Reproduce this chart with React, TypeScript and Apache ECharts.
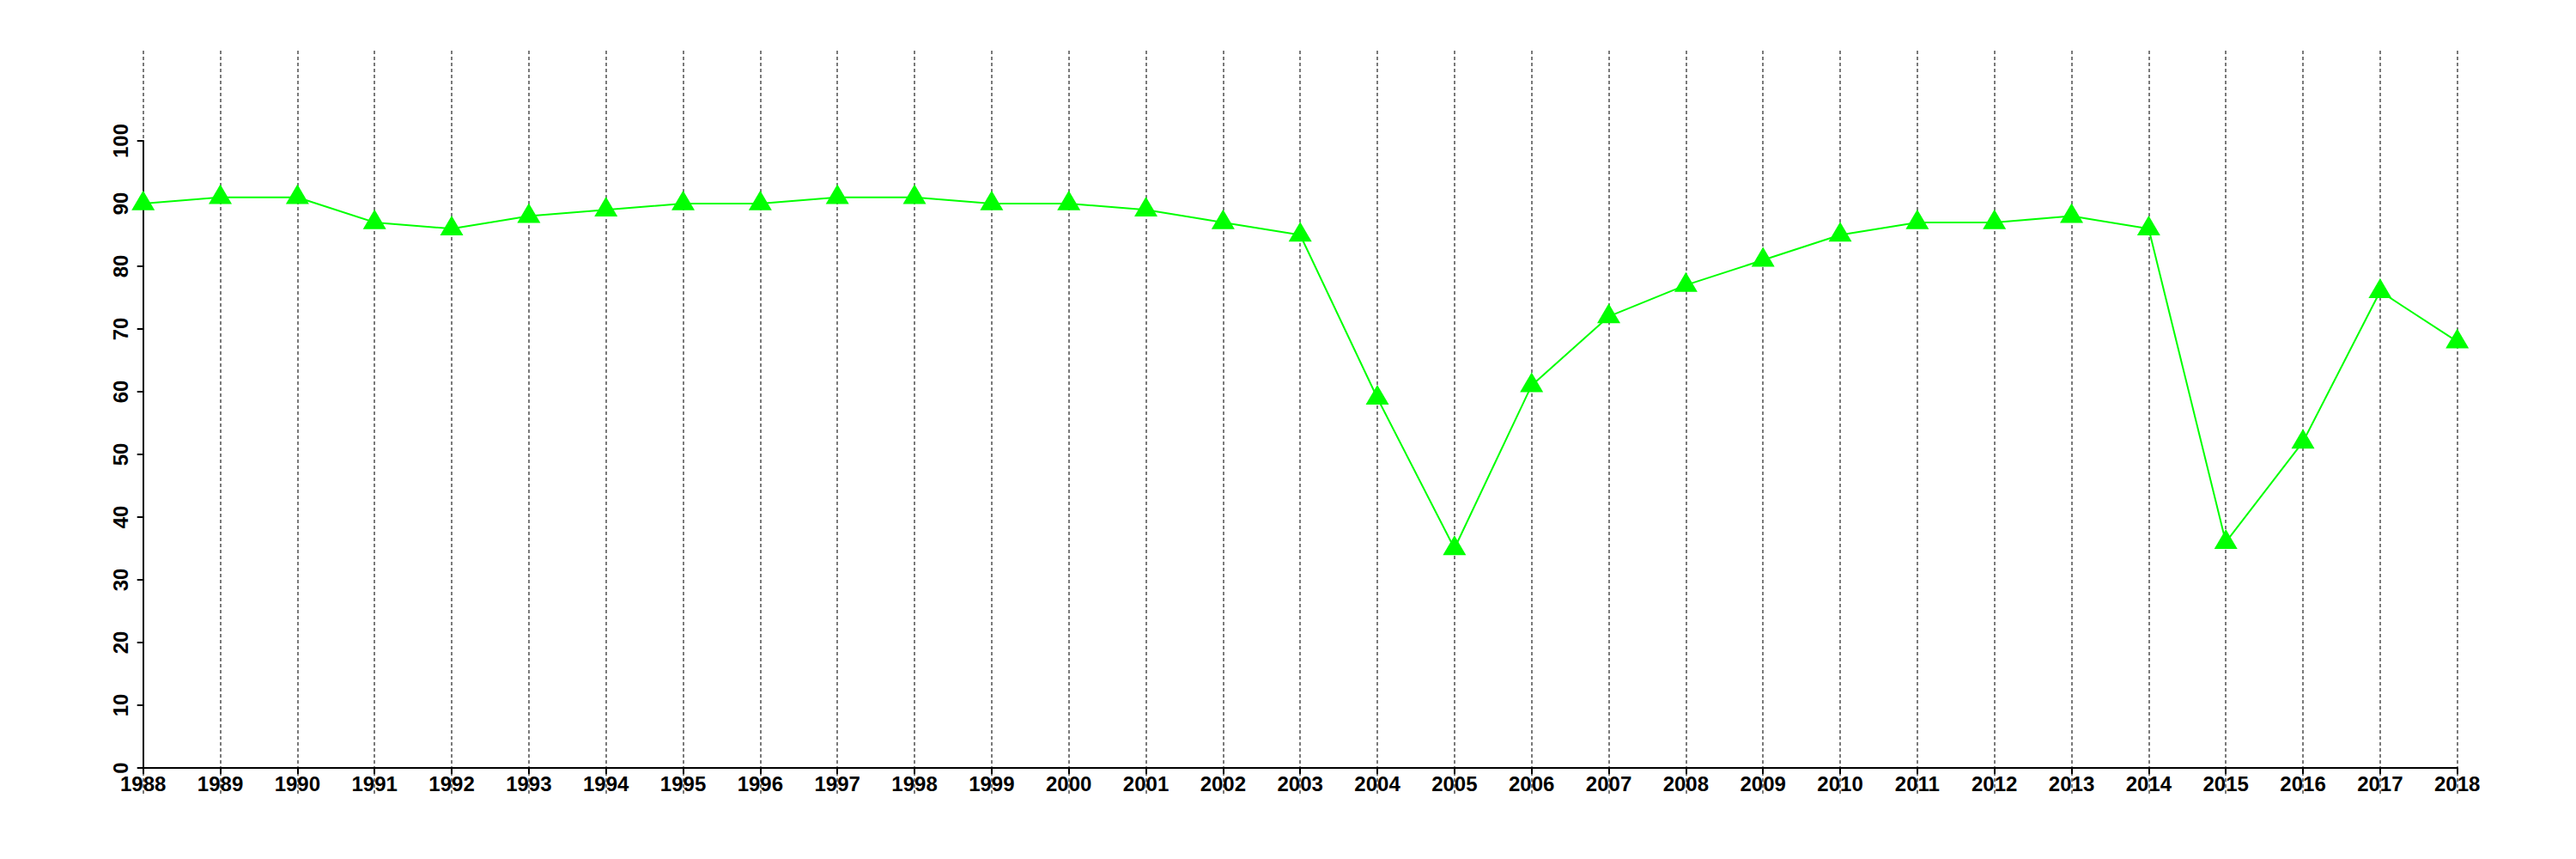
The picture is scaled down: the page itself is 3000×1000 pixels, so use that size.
import React, { useEffect, useRef } from "react";
import * as echarts from "echarts";

const years = [
  "1988","1989","1990","1991","1992","1993","1994","1995","1996","1997",
  "1998","1999","2000","2001","2002","2003","2004","2005","2006","2007",
  "2008","2009","2010","2011","2012","2013","2014","2015","2016","2017","2018",
];
const values = [
  90, 91, 91, 87, 86, 88, 89, 90, 90, 91,
  91, 90, 90, 89, 87, 85, 59, 35, 61, 72,
  77, 81, 85, 87, 87, 88, 86, 36, 52, 76, 68,
];
const yMin = 0;
const yMax = 100;
const yInterval = 10;

export default function App() {
  const ref = useRef<HTMLDivElement>(null);
  useEffect(() => {
    if (!ref.current) return;
    const chart = echarts.init(ref.current, undefined, { renderer: "svg" });
    const labelFont = {
      fontFamily: "Liberation Sans, Arial, Helvetica, sans-serif",
      fontSize: 24,
      fontWeight: "bold" as const,
      color: "#000",
    };
    chart.setOption({
      animation: false,
      backgroundColor: "#fff",
      grid: [
        { left: 166.7, right: 138.3, top: 164, bottom: 106 },
        { left: 166.7, right: 138.3, top: 59, bottom: 73 },
      ],
      xAxis: [
        {
          type: "category",
          gridIndex: 0,
          data: years,
          boundaryGap: false,
          axisLine: { show: true, lineStyle: { color: "#000", width: 2 } },
          axisTick: { show: true, length: 7, inside: false, interval: 0, lineStyle: { color: "#000", width: 2 } },
          axisLabel: { interval: 0, margin: 6, ...labelFont },
          splitLine: { show: false },
          z: 3,
        },
        {
          type: "category",
          gridIndex: 1,
          data: years,
          boundaryGap: false,
          axisLine: { show: false },
          axisTick: { show: false },
          axisLabel: { show: false },
          splitLine: {
            show: true,
            interval: 0,
            lineStyle: { color: "#7a7a7a", width: 2, type: [4, 3] },
          },
          z: 0,
        },
      ],
      yAxis: [
        {
          type: "value",
          gridIndex: 0,
          min: yMin,
          max: yMax,
          interval: yInterval,
          axisLine: { show: true, lineStyle: { color: "#000", width: 2 } },
          axisTick: { show: true, length: 7, lineStyle: { color: "#000", width: 2 } },
          axisLabel: { rotate: 90, margin: 14, ...labelFont },
          splitLine: { show: false },
          z: 3,
        },
        {
          type: "value",
          gridIndex: 1,
          min: 0,
          max: 1,
          show: false,
          splitLine: { show: false },
        },
      ],
      series: [
        {
          type: "line",
          xAxisIndex: 0,
          yAxisIndex: 0,
          data: values,
          symbol: "triangle",
          symbolSize: [27, 23],
          symbolOffset: [0, -3.7],
          showAllSymbol: true,
          lineStyle: { color: "#00ff00", width: 2 },
          itemStyle: { color: "#00ff00", borderWidth: 0 },
          z: 5,
        },
      ],
    });
    return () => chart.dispose();
  }, []);
  return (
    <div
      ref={ref}
      style={{ position: "absolute", left: 0, top: 0, width: 3000, height: 1000 }}
    />
  );
}
